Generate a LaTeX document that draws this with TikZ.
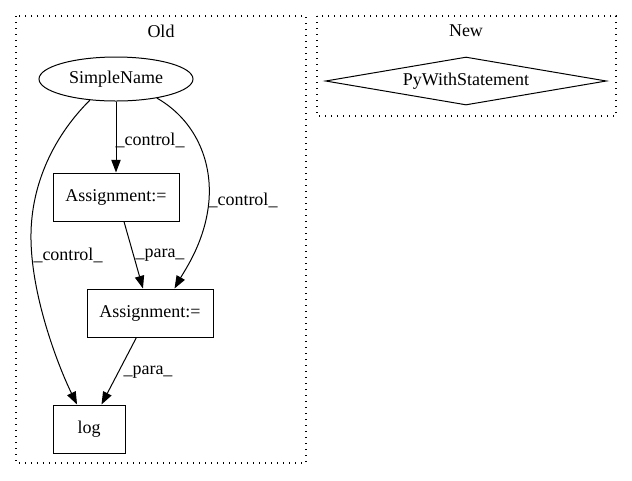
\documentclass[tikz,border=0pt]{standalone}
\usepackage{fontspec}
\setmainfont{Liberation Serif}
\usetikzlibrary{arrows.meta,shapes.geometric}
\begin{document}
\begin{tikzpicture}[x=0.75pt,y=-0.75pt,
  every node/.style={font=\fontsize{13.5}{16}\selectfont},
  cluster/.style={draw,line width=0.9pt,dash pattern=on 0.9pt off 3.6pt},
  box/.style={draw,line width=0.75pt,rectangle,inner sep=0pt},
  edge/.style={draw,line width=0.75pt,-{Triangle[length=9.5pt,width=7pt]}},
  lbl/.style={inner sep=0pt}]
\useasboundingbox (0,0) rectangle (632,480);
% clusters
\draw[cluster] (16,16) rectangle (306,463);
\node[lbl] (oldl) at (161,31) {Old};
\draw[cluster] (317,16) rectangle (616,116);
\node[lbl] (newl) at (466,31) {New};
% nodes
\node[draw,ellipse,line width=0.75pt,minimum width=115.5pt,minimum height=33pt,inner sep=0pt] (sn) at (116,79) {SimpleName};
\node[box,minimum width=94.5pt,minimum height=36pt] (a1) at (116,197) {Assignment:=};
\node[box,minimum width=94.5pt,minimum height=36pt] (a2) at (150,313) {Assignment:=};
\node[box,minimum width=54pt,minimum height=36pt] (lg) at (89,429) {log};
\node[draw,diamond,aspect=5.85,line width=0.75pt,minimum width=210.75pt,minimum height=36pt,inner sep=0pt] (pw) at (466,81) {PyWithStatement};
% edges
\draw[edge] (sn.south) -- (a1.north);
\node[lbl] (l1) at (150,140) {\_control\_};
\draw[edge] (sn.335) .. controls (195,120) and (212,160) .. (209,200) .. controls (206,240) and (185,270) .. (a2.45);
\node[lbl] (l2) at (243,200) {\_control\_};
\draw[edge] (sn.219) .. controls (50,140) and (30,190) .. (31,240) .. controls (32,300) and (60,370) .. (lg.116.6);
\node[lbl] (l3) at (68,255) {\_control\_};
\draw[edge] (a1.-72) -- (a2.106);
\node[lbl] (l4) at (160,255) {\_para\_};
\draw[edge] (a2.241.6) -- (lg.63.4);
\node[lbl] (l5) at (148,372) {\_para\_};
\end{tikzpicture}
\end{document}
